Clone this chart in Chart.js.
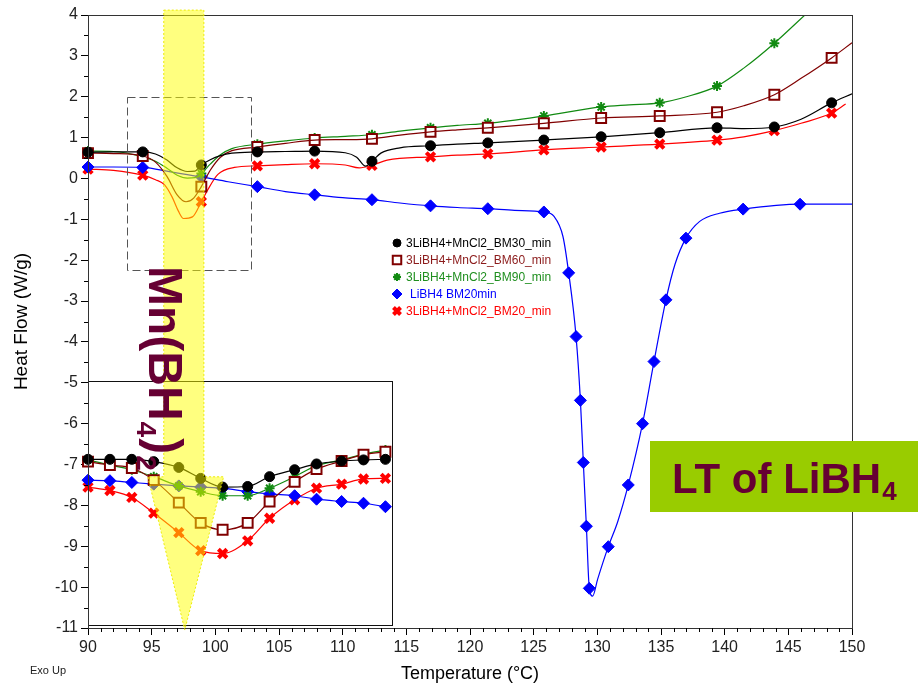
<!DOCTYPE html>
<html>
<head>
<meta charset="utf-8">
<script src="https://cdn.jsdelivr.net/npm/chart.js@4.4.1/dist/chart.umd.min.js"></script>
<style>
  html, body { margin: 0; padding: 0; background: #fff; }
  #wrap { position: relative; width: 918px; height: 685px; }
</style>
</head>
<body>
<div id="wrap"><canvas id="dsc" width="918" height="685"></canvas></div>
<script>
// ---- main traces: temperature (°C) / heat flow (W/g) ----
const bm30Temp = [90, 92, 94.3, 95.3, 96.2, 97.0, 97.8, 98.4, 98.9, 99.6, 100.4, 101.3, 103.3, 105.5, 107.8, 110.2, 111.1, 111.8, 112.3, 113.0, 114.5, 116.9, 119, 121.4, 125.8, 130.3, 134.9, 139.4, 141.5, 143.9, 146, 148.4, 150];
const bm30Flow = [0.64, 0.65, 0.65, 0.60, 0.45, 0.26, 0.17, 0.18, 0.33, 0.46, 0.56, 0.62, 0.65, 0.66, 0.67, 0.63, 0.52, 0.30, 0.42, 0.62, 0.75, 0.80, 0.84, 0.87, 0.94, 1.02, 1.12, 1.24, 1.22, 1.26, 1.45, 1.85, 2.07];

const bm60Temp = [90, 92, 94.3, 95.3, 96.2, 97.0, 97.7, 98.3, 98.9, 99.6, 100.4, 101.3, 103.3, 105.5, 107.8, 110.2, 112.3, 114.5, 116.9, 119, 121.4, 125.8, 130.3, 134.9, 139.4, 141.5, 143.9, 146, 148.4, 150];
const bm60Flow = [0.62, 0.61, 0.55, 0.40, 0.05, -0.40, -0.57, -0.48, -0.20, 0.20, 0.52, 0.68, 0.77, 0.86, 0.94, 0.95, 0.97, 1.06, 1.14, 1.19, 1.24, 1.35, 1.48, 1.53, 1.62, 1.78, 2.05, 2.45, 2.95, 3.32];

const bm90Temp = [90, 92, 94.3, 95.3, 96.2, 97.0, 97.8, 98.4, 98.9, 99.6, 100.4, 101.3, 103.3, 105.5, 107.8, 110.2, 112.3, 114.5, 116.9, 119, 121.4, 125.8, 130.3, 132.5, 134.9, 137, 139.4, 141.5, 143.9, 146.3];
const bm90Flow = [0.67, 0.66, 0.53, 0.42, 0.25, 0.08, 0.01, 0.02, 0.12, 0.35, 0.58, 0.73, 0.84, 0.92, 0.99, 1.03, 1.07, 1.16, 1.24, 1.30, 1.35, 1.53, 1.75, 1.80, 1.85, 2.0, 2.26, 2.7, 3.31, 4.0];

const libh4Temp = [90, 92, 94.3, 96.5, 98.9, 101, 103.3, 105.5, 107.8, 110, 112.3, 114.5, 116.9, 119, 121.4, 123.5, 125.8, 126.6, 127.3, 127.75, 128.33, 128.67, 128.9, 129.14, 129.37, 129.63, 130.02, 130.86, 131.6, 132.43, 133.55, 134.45, 135.39, 136.1, 136.96, 138.04, 139.6, 141.45, 145.92, 150];
const libh4Flow = [0.28, 0.28, 0.27, 0.16, 0.04, -0.08, -0.2, -0.32, -0.4, -0.47, -0.52, -0.60, -0.67, -0.71, -0.74, -0.78, -0.82, -0.93, -1.42, -2.31, -3.87, -5.43, -6.95, -8.51, -10.03, -10.22, -9.81, -9.01, -8.4, -7.5, -6.0, -4.48, -2.97, -2.1, -1.46, -1.05, -0.85, -0.75, -0.63, -0.63];

const bm20Temp = [90, 92, 94.3, 95.3, 96.0, 96.6, 97.1, 97.5, 98.2, 98.9, 99.4, 100.2, 101.5, 103.3, 105.5, 107.8, 110.2, 111.3, 112.3, 113.5, 116.9, 119, 121.4, 125.8, 130.3, 134.9, 139.4, 141.5, 143.9, 146, 148.4, 149.5];
const bm20Flow = [0.23, 0.2, 0.08, -0.03, -0.15, -0.45, -0.80, -0.98, -0.94, -0.57, -0.28, 0.10, 0.27, 0.31, 0.34, 0.36, 0.33, 0.26, 0.32, 0.45, 0.53, 0.57, 0.60, 0.70, 0.77, 0.84, 0.94, 1.02, 1.17, 1.35, 1.60, 1.82];

// ---- marker positions on the main traces ----
const markTemp = [90, 94.3, 98.9, 103.3, 107.8, 112.3, 116.9, 121.4, 125.8, 130.3, 134.9, 139.4, 143.9, 148.4];
const bm30Marks = [0.64, 0.65, 0.33, 0.65, 0.67, 0.42, 0.80, 0.87, 0.94, 1.02, 1.12, 1.24, 1.26, 1.85];
const bm60Marks = [0.62, 0.55, -0.20, 0.77, 0.94, 0.97, 1.14, 1.24, 1.35, 1.48, 1.53, 1.62, 2.05, 2.95];
const bm90Marks = [0.67, 0.53, 0.12, 0.84, 0.99, 1.07, 1.24, 1.35, 1.53, 1.75, 1.85, 2.26, 3.31, null];
const bm20Marks = [0.23, 0.08, -0.57, 0.31, 0.36, 0.32, 0.53, 0.60, 0.70, 0.77, 0.84, 0.94, 1.17, 1.60];
const libh4MarkTemp = [90, 94.3, 98.9, 103.3, 107.8, 112.3, 116.9, 121.4, 125.8, 127.75, 128.33, 128.67, 128.9, 129.14, 129.37, 130.86, 132.43, 133.55, 134.45, 135.39, 136.96, 141.45, 145.92];
const libh4Marks = [0.28, 0.27, 0.04, -0.2, -0.4, -0.52, -0.67, -0.74, -0.82, -2.31, -3.87, -5.43, -6.95, -8.51, -10.03, -9.01, -7.5, -6.0, -4.48, -2.97, -1.46, -0.75, -0.63];

// ---- inset (zoom of the dashed box) ----
const insetTemp = [93.1, 93.8, 94.5, 95.2, 96.0, 96.7, 97.4, 98.2, 98.9, 99.7, 100.4, 101.2, 101.9, 102.6];
const insetBm30 = [0.64, 0.64, 0.64, 0.60, 0.50, 0.31, 0.16, 0.17, 0.34, 0.46, 0.56, 0.61, 0.63, 0.64];
const insetBm60 = [0.60, 0.54, 0.49, 0.28, -0.11, -0.46, -0.58, -0.46, -0.09, 0.25, 0.47, 0.61, 0.72, 0.77];
const insetBm90 = [0.63, 0.54, 0.46, 0.34, 0.18, 0.08, 0.01, 0.01, 0.14, 0.34, 0.53, 0.63, 0.73, 0.80];
const insetLibh4 = [0.28, 0.27, 0.24, 0.21, 0.18, 0.16, 0.14, 0.08, 0.04, 0.01, -0.05, -0.09, -0.12, -0.18];
const insetBm20 = [0.16, 0.10, -0.02, -0.29, -0.63, -0.94, -0.99, -0.77, -0.38, -0.06, 0.14, 0.21, 0.30, 0.31];

// inset view (data range) and where the inset frame sits on the main axes
const insetView = { t0: 93.1, t1: 102.8, v0: -2.23, v1: 2.0 };
const insetFrame = { t0: 90, t1: 113.85, v0: -10.93, v1: -4.95 };
const X_MIN = 90, X_MAX = 150, Y_MIN = -11, Y_MAX = 4;

// yellow "Mn(BH4)2" arrow, in main axis units
const arrow = { bandL: 95.95, bandR: 99.1, top: 4.12, neck: -7.3, headL: 94.7, headR: 100.65, tipT: 97.6, tipV: -11.05 };

const series = [
  { label: '3LiBH4+MnCl2_BM30_min', color: '#000000', text: '#000000', style: 'circle', r: 5, bw: 1, bg: '#000000', t: bm30Temp, v: bm30Flow, mt: markTemp, mv: bm30Marks, iv: insetBm30 },
  { label: '3LiBH4+MnCl2_BM60_min', color: '#800000', text: '#8b1a1a', style: 'rect', r: 7, bw: 2, bg: '#ffffff', t: bm60Temp, v: bm60Flow, mt: markTemp, mv: bm60Marks, iv: insetBm60 },
  { label: '3LiBH4+MnCl2_BM90_min', color: '#118a11', text: '#1f8f1f', style: 'star', r: 5, bw: 2, bg: '#118a11', t: bm90Temp, v: bm90Flow, mt: markTemp, mv: bm90Marks, iv: insetBm90 },
  { label: 'LiBH4 BM20min', color: '#0000ff', text: '#0000ff', style: 'rectRot', r: 6, bw: 1, bg: '#0000ff', t: libh4Temp, v: libh4Flow, mt: libh4MarkTemp, mv: libh4Marks, iv: insetLibh4 },
  { label: '3LiBH4+MnCl2_BM20_min', color: '#ff0000', text: '#ff0000', style: 'crossRot', r: 6, bw: 4, bg: '#ff0000', t: bm20Temp, v: bm20Flow, mt: markTemp, mv: bm20Marks, iv: insetBm20 }
];

function pts(t, v) {
  return t.map((x, i) => ({ x: x, y: v[i] })).filter(p => p.y !== null && p.y !== undefined);
}

// hidden inset axes: stretch the inset view onto the inset frame
const kx = (insetView.t1 - insetView.t0) / (insetFrame.t1 - insetFrame.t0);
const ky = (insetView.v1 - insetView.v0) / (insetFrame.v1 - insetFrame.v0);
const xiMin = insetView.t0 - (insetFrame.t0 - X_MIN) * kx;
const xiMax = insetView.t1 + (X_MAX - insetFrame.t1) * kx;
const yiMin = insetView.v0 - (insetFrame.v0 - Y_MIN) * ky;
const yiMax = insetView.v1 + (Y_MAX - insetFrame.v1) * ky;

const datasets = [];
series.forEach(s => {
  datasets.push({
    data: pts(s.t, s.v), borderColor: s.color, borderWidth: 1.2, pointRadius: 0,
    cubicInterpolationMode: 'monotone', fill: false, xAxisID: 'x', yAxisID: 'y'
  });
  datasets.push({
    data: pts(s.mt, s.mv), showLine: false, pointStyle: s.style, pointRadius: s.r,
    pointBorderWidth: s.bw, pointBorderColor: s.color, pointBackgroundColor: s.bg,
    clip: 10, xAxisID: 'x', yAxisID: 'y'
  });
  datasets.push({
    data: pts(insetTemp, s.iv), borderColor: s.color, borderWidth: 1.2,
    cubicInterpolationMode: 'monotone', fill: false,
    pointStyle: s.style, pointRadius: s.r, pointBorderWidth: s.bw,
    pointBorderColor: s.color, pointBackgroundColor: s.bg,
    clip: 10, xAxisID: 'xi', yAxisID: 'yi'
  });
});

const ARIAL = 'Arial, "Liberation Sans", sans-serif';

const decor = {
  id: 'decor',
  beforeDatasetsDraw(chart) {
    const ctx = chart.ctx, xs = chart.scales.x, ys = chart.scales.y;
    const l = xs.getPixelForValue(insetFrame.t0), r = xs.getPixelForValue(insetFrame.t1);
    const t = ys.getPixelForValue(insetFrame.v1), b = ys.getPixelForValue(insetFrame.v0);
    ctx.save();
    ctx.fillStyle = '#fff';
    ctx.fillRect(l, t, r - l, b - t);
    ctx.strokeStyle = '#111';
    ctx.lineWidth = 1;
    ctx.strokeRect(Math.round(l) + 0.5, Math.round(t) + 0.5, Math.round(r - l), Math.round(b - t));
    ctx.restore();
  },
  afterDraw(chart) {
    const ctx = chart.ctx, ca = chart.chartArea, xs = chart.scales.x, ys = chart.scales.y;
    ctx.save();
    // plot frame
    ctx.strokeStyle = '#333';
    ctx.lineWidth = 1;
    ctx.strokeRect(Math.round(ca.left) + 0.5, Math.round(ca.top) + 0.5, Math.round(ca.right - ca.left), Math.round(ca.bottom - ca.top));
    // minor ticks
    ctx.strokeStyle = '#000';
    ctx.beginPath();
    for (let v = xs.min; v <= xs.max; v += 1) {
      if (v % 5 === 0) continue;
      const px = Math.round(xs.getPixelForValue(v)) + 0.5;
      ctx.moveTo(px, ca.bottom); ctx.lineTo(px, ca.bottom + 4);
    }
    for (let v = ys.min; v <= ys.max; v += 0.5) {
      if (Number.isInteger(v)) continue;
      const py = Math.round(ys.getPixelForValue(v)) + 0.5;
      ctx.moveTo(ca.left, py); ctx.lineTo(ca.left - 4, py);
    }
    ctx.stroke();

    // dashed zoom box
    ctx.setLineDash([8, 4]);
    ctx.strokeStyle = '#555';
    const dl = xs.getPixelForValue(insetView.t0), dr = xs.getPixelForValue(insetView.t1);
    const dt = ys.getPixelForValue(insetView.v1), db = ys.getPixelForValue(insetView.v0);
    ctx.strokeRect(Math.round(dl) + 0.5, Math.round(dt) + 0.5, Math.round(dr - dl), Math.round(db - dt));
    ctx.setLineDash([]);

    // yellow arrow
    const P = (t, v) => [xs.getPixelForValue(t), ys.getPixelForValue(v)];
    const poly = [P(arrow.bandL, arrow.top), P(arrow.bandR, arrow.top), P(arrow.bandR, arrow.neck), P(arrow.headR, arrow.neck),
      P(arrow.tipT, arrow.tipV), P(arrow.headL, arrow.neck), P(arrow.bandL, arrow.neck)];
    ctx.beginPath();
    poly.forEach((p, i) => i ? ctx.lineTo(p[0], p[1]) : ctx.moveTo(p[0], p[1]));
    ctx.closePath();
    ctx.fillStyle = 'rgba(255,255,0,0.5)';
    ctx.fill();
    ctx.setLineDash([2, 2]);
    ctx.strokeStyle = 'rgba(235,235,0,0.95)';
    ctx.stroke();
    ctx.setLineDash([]);

    // Mn(BH4)2 label, rotated
    ctx.save();
    ctx.translate(149, 266);
    ctx.rotate(Math.PI / 2);
    ctx.fillStyle = '#660033';
    ctx.textBaseline = 'alphabetic';
    const parts = [['Mn(BH', 48, 0], ['4', 28, 12], [')', 48, 0], ['2', 28, 12]];
    let x = 0;
    parts.forEach(p => {
      ctx.font = 'bold ' + p[1] + 'px ' + ARIAL;
      ctx.fillText(p[0], x, p[2]);
      x += ctx.measureText(p[0]).width + 1;
    });
    ctx.restore();

    // legend
    ctx.textBaseline = 'middle';
    ctx.textAlign = 'left';
    series.forEach((s, i) => {
      const y = 243 + i * 17;
      ctx.fillStyle = s.bg;
      ctx.strokeStyle = s.color;
      ctx.lineWidth = s.bw;
      Chart.helpers.drawPoint(ctx, { pointStyle: s.style, rotation: 0, radius: s.r - 1, borderWidth: s.bw }, 397, y);
      ctx.fillStyle = s.text;
      ctx.font = '12px ' + ARIAL;
      ctx.fillText(s.label, s.style === 'rectRot' ? 410 : 406, y + 1);
    });
    ctx.lineWidth = 1;

    // LT of LiBH4 box
    ctx.fillStyle = '#99cc00';
    ctx.fillRect(650, 441, 268, 71);
    ctx.fillStyle = '#660033';
    ctx.textBaseline = 'alphabetic';
    ctx.font = 'bold 42px ' + ARIAL;
    ctx.fillText('LT of LiBH', 672, 493);
    const w = ctx.measureText('LT of LiBH').width;
    ctx.font = 'bold 26px ' + ARIAL;
    ctx.fillText('4', 672 + w + 1, 500);

    // Exo Up
    ctx.fillStyle = '#222';
    ctx.font = '11px ' + ARIAL;
    ctx.fillText('Exo Up', 30, 674);
    ctx.restore();
  }
};

new Chart(document.getElementById('dsc'), {
  type: 'line',
  data: { datasets: datasets },
  options: {
    responsive: false,
    devicePixelRatio: 1,
    animation: false,
    layout: { padding: { top: 15, right: 66, left: 0, bottom: 0 } },
    plugins: { legend: { display: false }, tooltip: { enabled: false } },
    scales: {
      x: {
        type: 'linear', position: 'bottom', min: X_MIN, max: X_MAX,
        afterFit: s => { s.height = 57; },
        ticks: {
          stepSize: 1, autoSkip: false, maxRotation: 0, padding: 3, color: '#222',
          font: { family: ARIAL, size: 16 },
          callback: v => (v % 5 === 0 ? v : '')
        },
        grid: { drawOnChartArea: false, tickLength: 7, tickColor: c => (c.tick && c.tick.value % 5 === 0 ? '#000' : 'rgba(0,0,0,0)') },
        border: { color: '#000' },
        title: { display: true, text: 'Temperature (°C)', color: '#000', font: { family: ARIAL, size: 18 }, padding: { top: 0, bottom: 0 } }
      },
      y: {
        type: 'linear', position: 'left', min: Y_MIN, max: Y_MAX,
        afterFit: s => { s.width = 88; },
        ticks: {
          stepSize: 0.5, autoSkip: false, padding: 3, color: '#222',
          font: { family: ARIAL, size: 16 },
          callback: v => (Number.isInteger(v) ? v : '')
        },
        grid: { drawOnChartArea: false, tickLength: 7, tickColor: c => (c.tick && Number.isInteger(c.tick.value) ? '#000' : 'rgba(0,0,0,0)') },
        border: { color: '#000' },
        title: { display: true, text: 'Heat Flow (W/g)', color: '#000', font: { family: ARIAL, size: 19 }, padding: { top: 10, bottom: 0 } }
      },
      xi: { type: 'linear', axis: 'x', position: 'bottom', display: false, min: xiMin, max: xiMax },
      yi: { type: 'linear', axis: 'y', position: 'left', display: false, min: yiMin, max: yiMax }
    }
  },
  plugins: [decor]
});
</script>
</body>
</html>
